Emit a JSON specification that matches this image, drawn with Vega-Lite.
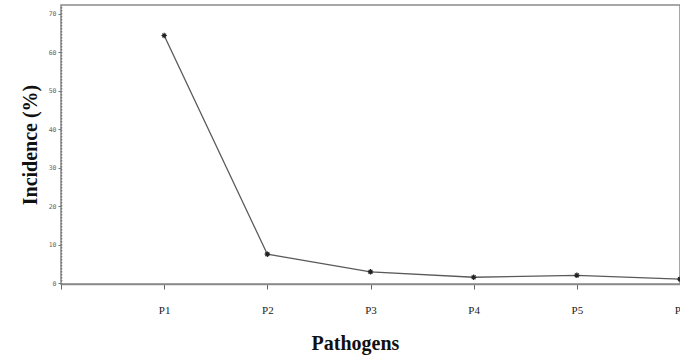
{
  "$schema": "https://vega.github.io/schema/vega-lite/v6.json",
  "autosize": "none",
  "width": 619,
  "height": 279,
  "padding": {"left": 61, "top": 5, "right": 0, "bottom": 76},
  "background": "white",
  "config": {
    "view": {"stroke": "#8a8a8a", "strokeWidth": 1.5},
    "axis": {"grid": false}
  },
  "data": {
    "values": [
      {"pathogen": 1, "incidence": 64.4},
      {"pathogen": 2, "incidence": 7.5},
      {"pathogen": 3, "incidence": 2.9},
      {"pathogen": 4, "incidence": 1.5},
      {"pathogen": 5, "incidence": 2.0},
      {"pathogen": 6, "incidence": 1.0}
    ]
  },
  "encoding": {
    "x": {
      "field": "pathogen", "type": "quantitative",
      "scale": {"domain": [0, 6], "nice": false, "zero": false},
      "axis": {
        "values": [0, 1, 2, 3, 4, 5, 6],
        "labelExpr": "datum.value == 0 ? '' : 'P' + datum.value",
        "labelFont": "Liberation Serif", "labelFontSize": 11, "labelColor": "#222",
        "labelBaseline": "middle", "labelPadding": 21, "labelFlush": false, "labelOverlap": false,
        "tickSize": 5, "tickColor": "#666", "domainColor": "#8a8a8a", "domainWidth": 1.5,
        "title": "Pathogens", "titleFont": "Liberation Serif", "titleFontSize": 20,
        "titleFontWeight": "bold", "titleColor": "#111",
        "titleX": 294, "titleY": 59, "titleBaseline": "middle",
        "encode": {"labels": {"update": {"dy": {"signal": "datum.value == 2 ? 3 : datum.value == 3 ? 1 : datum.value == 4 ? -2 : datum.value == 5 ? 1 : datum.value == 6 ? -2 : 0"}}}}
      }
    },
    "y": {
      "field": "incidence", "type": "quantitative",
      "scale": {"domain": [-0.26, 72.34], "nice": false, "zero": false},
      "axis": {
        "values": [0, 10, 20, 30, 40, 50, 60, 70],
        "labelFont": "DejaVu Sans Mono", "labelFontSize": 6.5, "labelColor": "#666",
        "labelPadding": 2, "tickSize": 3, "tickColor": "#777", "labelOverlap": false,
        "domainColor": "#777", "domainDash": [1.5, 1.5], "domainWidth": 1.5,
        "title": "Incidence (%)", "titleFont": "Liberation Serif", "titleFontSize": 20,
        "titleFontWeight": "bold", "titleColor": "#111",
        "titleX": -31, "titleY": 139.5, "titleBaseline": "middle"
      }
    }
  },
  "layer": [
    {
      "mark": {"type": "line", "color": "#5a5a5a", "strokeWidth": 1.3, "clip": false}
    },
    {
      "mark": {
        "type": "point",
        "shape": "M-1,0L1,0M0,-1L0,1M-0.7,-0.7L0.7,0.7M-0.7,0.7L0.7,-0.7",
        "size": 30, "stroke": "#222", "strokeWidth": 1.2, "filled": false, "opacity": 1, "clip": false
      }
    }
  ]
}
